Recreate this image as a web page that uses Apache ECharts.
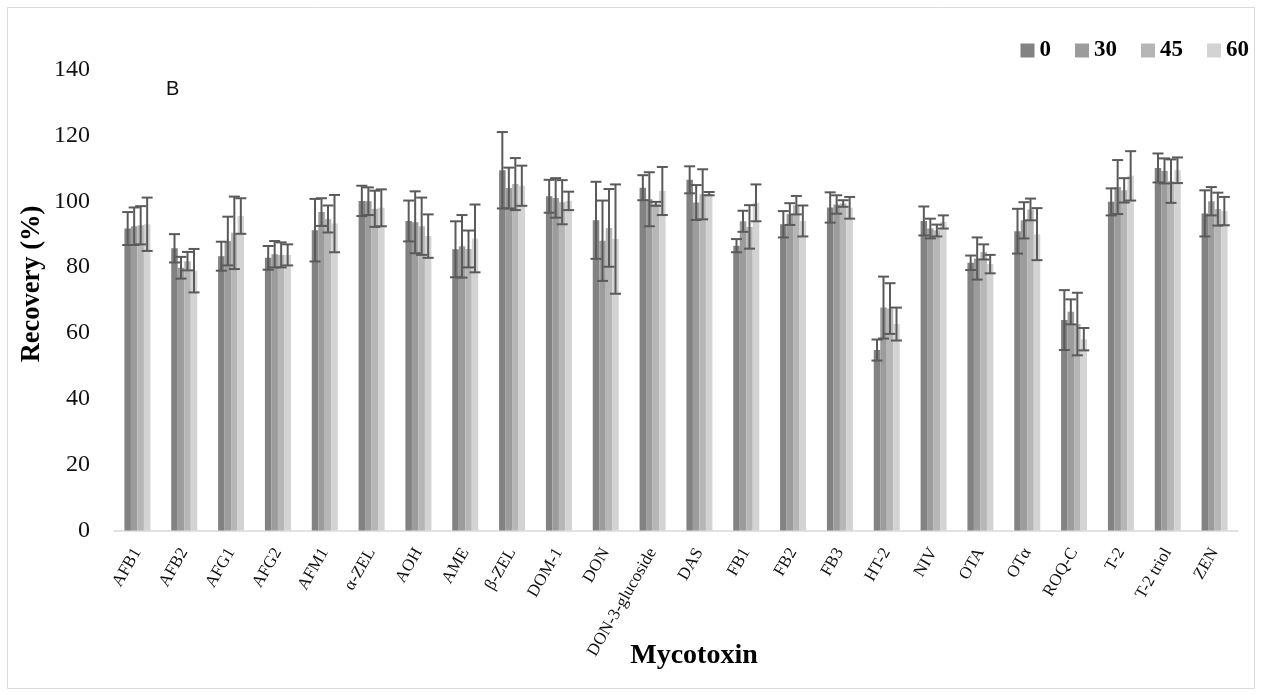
<!DOCTYPE html>
<html><head><meta charset="utf-8">
<script src="https://cdn.jsdelivr.net/npm/echarts@6/dist/echarts.min.js"></script>
<style>html,body{margin:0;padding:0;background:#fff}#c{width:1261px;height:695px}</style>
</head><body><div id="c"></div>
<script>
const categories = ['AFB1','AFB2','AFG1','AFG2','AFM1','α-ZEL','AOH','AME','β-ZEL','DOM-1','DON','DON-3-glucoside','DAS','FB1','FB2','FB3','HT-2','NIV','OTA','OTα','ROQ-C','T-2','T-2 triol','ZEN'];
const seriesNames = ['0','30','45','60'];
const yTicks = [0,20,40,60,80,100,120,140];
const mean0 = [91.7,85.7,83.3,82.8,91.2,100.1,94.0,85.4,109.4,101.5,94.2,104.1,106.5,86.5,93.0,98.1,54.8,94.0,81.3,90.9,63.9,99.8,110.1,96.3];
const mean30 = [92.4,79.8,87.9,83.9,96.7,100.0,93.6,86.3,104.0,101.0,88.0,100.6,99.6,93.9,96.1,99.0,67.7,91.7,82.6,94.2,66.4,104.3,109.2,100.0];
const mean45 = [92.7,81.8,90.4,83.7,94.6,97.7,92.4,85.5,105.2,99.7,91.9,99.2,102.1,92.2,98.8,99.3,67.4,91.1,84.6,97.5,62.7,103.3,106.1,97.6];
const mean60 = [93.0,78.9,95.5,83.7,93.2,98.0,89.4,88.7,104.7,100.1,88.5,103.1,102.3,99.5,94.0,98.0,62.7,93.7,80.9,90.0,58.1,107.7,109.4,97.0];
const err0 = [5.0,4.3,4.4,3.6,9.5,4.6,6.2,8.5,11.6,5.0,11.7,3.8,4.1,2.0,4.0,4.6,3.2,4.4,2.2,6.8,9.1,4.1,4.4,7.0];
const err30 = [5.7,3.3,7.4,4.0,4.2,4.2,9.4,9.5,6.2,6.0,12.2,8.2,5.3,3.2,3.3,2.8,9.4,3.0,6.4,5.5,3.8,8.2,3.8,4.3];
const err45 = [5.8,2.8,11.0,3.8,4.1,5.5,8.7,5.6,7.9,6.7,11.8,0.6,7.6,6.6,2.8,1.0,7.7,1.8,2.3,3.3,9.5,3.7,6.6,5.0];
const err60 = [8.1,6.6,5.4,3.2,8.7,5.6,6.6,10.3,6.1,2.8,16.6,7.3,0.5,5.6,4.7,3.3,5.0,2.0,2.8,7.9,3.4,7.5,3.9,4.3];

const means = [mean0, mean30, mean45, mean60];
const errs = [err0, err30, err45, err60];
const colors = ['#828282','#9c9c9c','#b6b6b6','#d3d3d3'];
const SERIF = '"Liberation Serif", "DejaVu Serif", serif';
const CAT_GAP = 0.445;

const chart = echarts.init(document.getElementById('c'), null, {renderer:'canvas'});
const series = [];
means.forEach((m, i) => {
  series.push({
    name: seriesNames[i], type: 'bar', data: m,
    barGap: '0%', barCategoryGap: (CAT_GAP*100)+'%',
    itemStyle: {color: colors[i]}, z: 2, silent: true
  });
});
means.forEach((m, i) => {
  series.push({
    type: 'custom', z: 10, silent: true,
    encode: {x: 0, y: 1},
    data: m.map((v, k) => [k, v, errs[i][k]]),
    renderItem: function (params, api) {
      const idx = api.value(0), v = api.value(1), e = api.value(2);
      const c = api.coord([idx, v]);
      const hi = api.coord([idx, v + e])[1];
      const lo = api.coord([idx, v - e])[1];
      const bw = api.size([1, 0])[0] * (1 - CAT_GAP) / 4;
      const x = c[0] + (i - 1.5) * bw;
      const hw = 5.5;
      const st = {stroke: '#5a5a5a', lineWidth: 2};
      return {type: 'group', children: [
        {type: 'line', shape: {x1: x, y1: hi, x2: x, y2: lo}, style: st},
        {type: 'line', shape: {x1: x - hw, y1: hi, x2: x + hw, y2: hi}, style: st},
        {type: 'line', shape: {x1: x - hw, y1: lo, x2: x + hw, y2: lo}, style: st}
      ]};
    }
  });
});

chart.setOption({
  animation: false,
  backgroundColor: '#fff',
  grid: {left: 114, right: 23, top: 69.5, bottom: 164.5, containLabel: false},
  legend: {
    data: seriesNames, right: 12, top: 39, icon: 'rect', padding: 0,
    itemWidth: 14, itemHeight: 14, itemGap: 24,
    textStyle: {fontFamily: SERIF, fontWeight: 'bold', fontSize: 23, color: '#000'}
  },
  xAxis: {
    type: 'category', data: categories,
    axisLine: {lineStyle: {color: '#d9d9d9', width: 1.5}},
    axisTick: {show: false},
    axisLabel: {rotate: 60, interval: 0, fontFamily: SERIF, fontSize: 17, color: '#111', margin: 19}
  },
  yAxis: {
    type: 'value', min: yTicks[0], max: yTicks[yTicks.length-1], interval: 20,
    axisLine: {show: false}, axisTick: {show: false}, splitLine: {show: false},
    axisLabel: {fontFamily: SERIF, fontSize: 24, color: '#111', margin: 24}
  },
  graphic: [
    {type: 'rect', shape: {x: 7.5, y: 7.5, width: 1247, height: 681}, style: {fill: 'none', stroke: '#d9d9d9', lineWidth: 1}, silent: true, z: -1},
    {type: 'text', left: 166, top: 79, style: {text: 'B', font: '20px "Liberation Sans", "Open Sans", sans-serif', fill: '#111'}},
    {type: 'text', x: 32, y: 284, rotation: Math.PI/2, style: {text: 'Recovery (%)', font: 'bold 26.5px ' + SERIF, fill: '#000', align: 'center', verticalAlign: 'middle'}},
    {type: 'text', x: 694, y: 656, style: {text: 'Mycotoxin', font: 'bold 28px ' + SERIF, fill: '#000', align: 'center', verticalAlign: 'middle'}}
  ],
  series: series
});
</script></body></html>
